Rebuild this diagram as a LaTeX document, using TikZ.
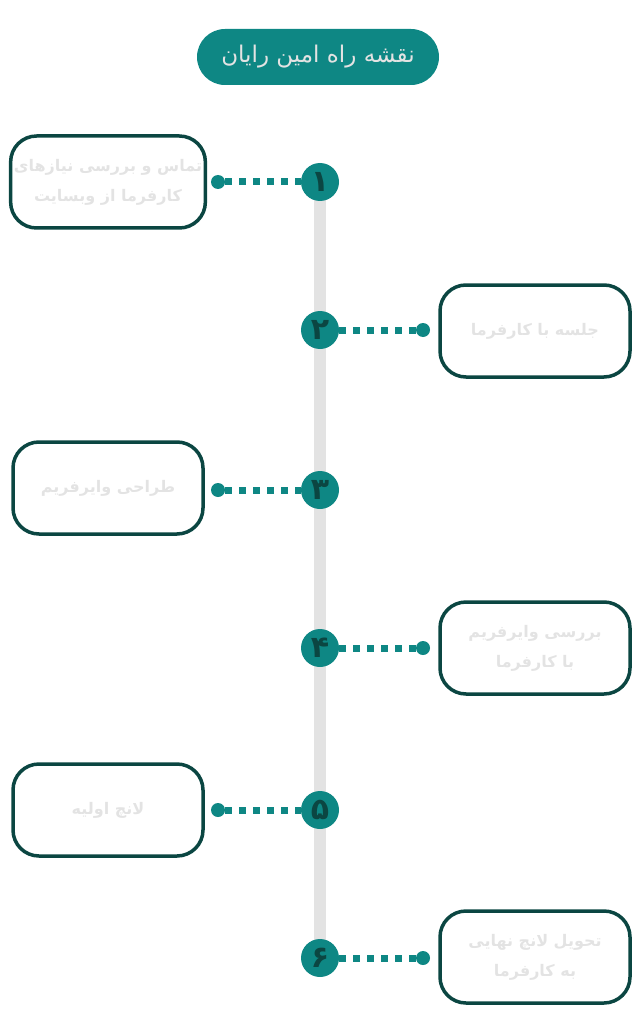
\documentclass[tikz,border=0pt]{standalone}
\usepackage{fontspec}
\newfontfamily\farsi[Script=Arabic]{DejaVu Sans}
\TeXXeTstate=1
\newcommand{\fa}[1]{{\farsi\beginR #1\endR}}
\definecolor{teal1}{HTML}{0E8784}
\definecolor{darkteal}{HTML}{0B4642}
\definecolor{softgray}{HTML}{E3E3E3}

\tikzset{%
  step box/.style={
    draw=darkteal,
    line width=3.5pt,
    rounded corners=26pt,
    minimum width=190pt,
    minimum height=92pt,
    align=center,
    text=softgray,
    font=\fontsize{16}{30}\selectfont\bfseries
  },
  step num/.style={
    circle,
    fill=teal1,
    minimum size=38pt,
    inner sep=0pt,
    text=darkteal,
    font=\fontsize{30}{30}\selectfont\bfseries
  },
  step dot/.style={
    circle,
    fill=teal1,
    minimum size=14pt,
    inner sep=0pt
  },
  link/.style={
    teal1,
    line width=7pt,
    dash pattern=on 7pt off 7pt
  },
}

\begin{document}
\begin{tikzpicture}[x=1pt, y=-1pt]
\useasboundingbox (0,0) rectangle (640,1024);

\node [fill=teal1, rounded corners=28pt, minimum width=242pt, minimum height=56pt,
  text=softgray, font=\fontsize{23}{26}\selectfont] (title) at (318,57)
  {\fa{نقشه راه امین رایان}};

\coordinate (axis-top) at (320,182);
\coordinate (axis-bottom) at (320,958);
\draw [softgray, line width=12pt] (axis-top) -- (axis-bottom);

\foreach \y/\t [count=\i] in {
    182/{\fa{تماس و بررسی نیازهای}\\\fa{کارفرما از وبسایت}},
    488/{\fa{طراحی وایرفریم}},
    810/{\fa{لانچ اولیه}}}
  \node [step box] (box-\i) at (108,\y) {\t};

\foreach \y/\t [count=\i] in {
    331/{\fa{جلسه با کارفرما}},
    648/{\fa{بررسی وایرفریم}\\\fa{با کارفرما}},
    957/{\fa{تحویل لانچ نهایی}\\\fa{به کارفرما}}}
  \node [step box] (rbox-\i) at (535,\y) {\t};

\foreach \y/\n [count=\i] in {182/۱,330/۲,490/۳,648/۴,810/۵,958/۶}
  \node [step num] (num-\i) at (320,\y) {\fa{\n}};

\foreach \i in {1,3,5} {
  \node [step dot] (dot-\i) at (218,0 |- num-\i) {};
  \draw [link] (dot-\i) -- (num-\i);
}

\foreach \i in {2,4,6} {
  \node [step dot] (dot-\i) at (423,0 |- num-\i) {};
  \draw [link] (dot-\i) -- (num-\i);
}

\end{tikzpicture}
\end{document}
